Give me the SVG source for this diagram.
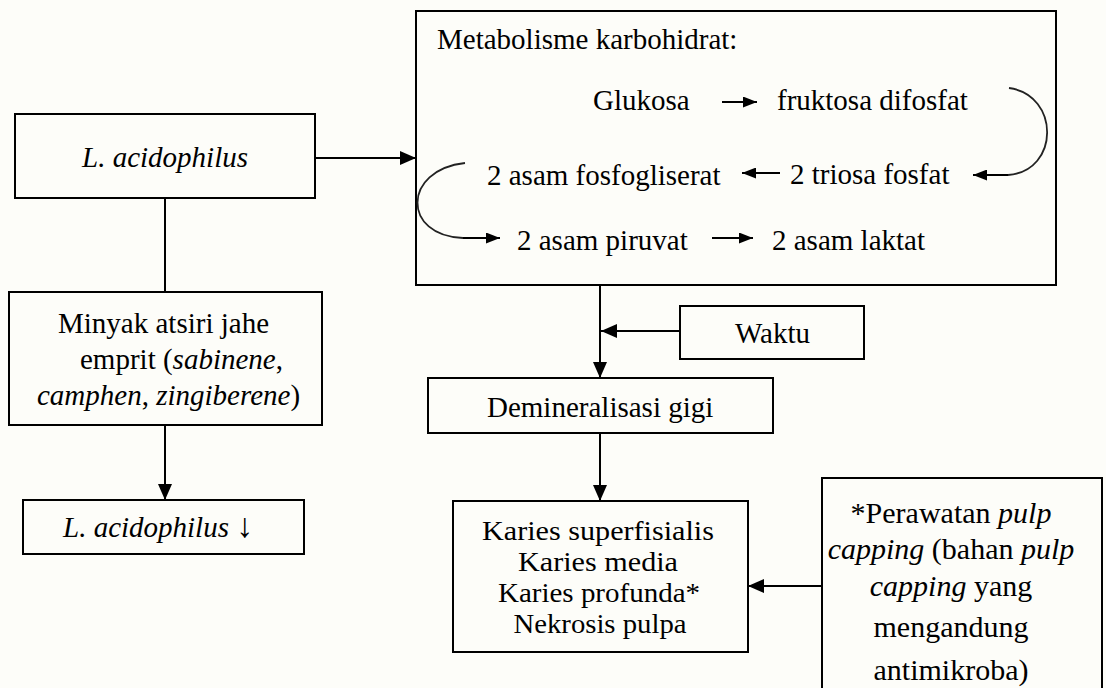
<svg xmlns="http://www.w3.org/2000/svg" width="1106" height="688" viewBox="0 0 1106 688" font-family="'Liberation Serif', 'DejaVu Serif', serif">
<defs>
<style>
.box{fill:none;stroke:#000;stroke-width:2}
.ln{fill:none;stroke:#000;stroke-width:2}
.cv{fill:none;stroke:#222;stroke-width:1.8}
text{font-family:'Liberation Serif','DejaVu Serif',serif;font-size:29px;fill:#000}
.b30{font-size:30px}
.k{font-size:27px}
.c{text-anchor:middle}
.i{font-style:italic}
</style>
<marker id="ah" viewBox="0 0 16 14" refX="16" refY="7" markerWidth="16" markerHeight="14" markerUnits="userSpaceOnUse" orient="auto">
<path d="M0,0 L16,7 L0,14 z" fill="#000"/>
</marker>
<marker id="as" viewBox="0 0 14 11" refX="14" refY="5.5" markerWidth="14" markerHeight="11" markerUnits="userSpaceOnUse" orient="auto">
<path d="M0,0 L14,5.5 L0,11 z" fill="#000"/>
</marker>
</defs>
<rect x="0" y="0" width="1106" height="688" fill="#fdfdf9"/>

<g id="metabolisme">
<rect class="box" x="416" y="11" width="640" height="274"/>
<text x="437" y="49">Metabolisme karbohidrat:</text>
<text x="593" y="110">Glukosa</text>
<text x="777" y="110">fruktosa difosfat</text>
<text x="487" y="185">2 asam fosfogliserat</text>
<text x="790" y="184">2 triosa fosfat</text>
<text x="517" y="250">2 asam piruvat</text>
<text x="772" y="250">2 asam laktat</text>
</g>

<g id="lacid">
<rect class="box" x="15" y="114" width="300" height="84"/>
<text class="i c" x="165" y="167">L. acidophilus</text>
</g>

<g id="minyak">
<rect class="box" x="9" y="292" width="313" height="133"/>
<text x="58" y="333">Minyak atsiri jahe</text>
<text x="80" y="369">emprit (<tspan class="i">sabinene</tspan>,</text>
<text x="37" y="405"><tspan class="i">camphen</tspan>, <tspan class="i">zingiberene</tspan>)</text>
</g>

<g id="lacid-turun">
<rect class="box" x="23" y="500" width="281" height="54"/>
<text x="63" y="537"><tspan class="i">L. acidophilus</tspan> <tspan font-weight="bold" font-size="34">↓</tspan></text>
</g>

<g id="waktu">
<rect class="box" x="680" y="306" width="184" height="53"/>
<text x="735" y="343">Waktu</text>
</g>

<g id="demineralisasi">
<rect class="box" x="428" y="378" width="345" height="55"/>
<text x="487" y="417">Demineralisasi gigi</text>
</g>

<g id="karies">
<rect class="box" x="453" y="501" width="295" height="151"/>
<text class="k c" x="598" y="540" textLength="232" lengthAdjust="spacingAndGlyphs">Karies superfisialis</text>
<text class="k c" x="598" y="571" textLength="160" lengthAdjust="spacingAndGlyphs">Karies media</text>
<text class="k c" x="599" y="602" textLength="202" lengthAdjust="spacingAndGlyphs">Karies profunda*</text>
<text class="k c" x="600" y="633" textLength="173" lengthAdjust="spacingAndGlyphs">Nekrosis pulpa</text>
</g>

<g id="pulp">
<rect class="box" x="822" y="478" width="280" height="230"/>
<text class="b30 c" x="951" y="523">*Perawatan <tspan class="i">pulp</tspan></text>
<text class="b30 c" x="951" y="559"><tspan class="i">capping</tspan> (bahan <tspan class="i">pulp</tspan></text>
<text class="b30 c" x="951" y="596"><tspan class="i">capping</tspan> yang</text>
<text class="b30 c" x="951" y="637">mengandung</text>
<text class="b30 c" x="951" y="680">antimikroba)</text>
</g>

<g id="connectors">
<line class="ln" x1="315" y1="158" x2="416" y2="158" marker-end="url(#ah)"/>
<line class="ln" x1="165" y1="198" x2="165" y2="292"/>
<line class="ln" x1="165" y1="425" x2="165" y2="500" marker-end="url(#ah)"/>
<line class="ln" x1="600" y1="285" x2="600" y2="378" marker-end="url(#ah)"/>
<line class="ln" x1="680" y1="331" x2="601" y2="331" marker-end="url(#ah)"/>
<line class="ln" x1="600" y1="433" x2="600" y2="501" marker-end="url(#ah)"/>
<line class="ln" x1="822" y1="586" x2="748" y2="586" marker-end="url(#ah)"/>
<line class="ln" x1="722" y1="102" x2="757" y2="102" marker-end="url(#as)"/>
<line class="ln" x1="780" y1="173" x2="742" y2="173" marker-end="url(#as)"/>
<line class="ln" x1="712" y1="238" x2="753" y2="238" marker-end="url(#as)"/>
<path class="cv" d="M465,163 C402,170 402,236 463,238"/>
<line class="ln" x1="463" y1="238" x2="500" y2="238" marker-end="url(#as)"/>
<path class="cv" d="M1009,88 C1060,95 1060,171 1008,175"/>
<line class="ln" x1="1008" y1="175" x2="973" y2="175" marker-end="url(#as)"/>
</g>
</svg>
